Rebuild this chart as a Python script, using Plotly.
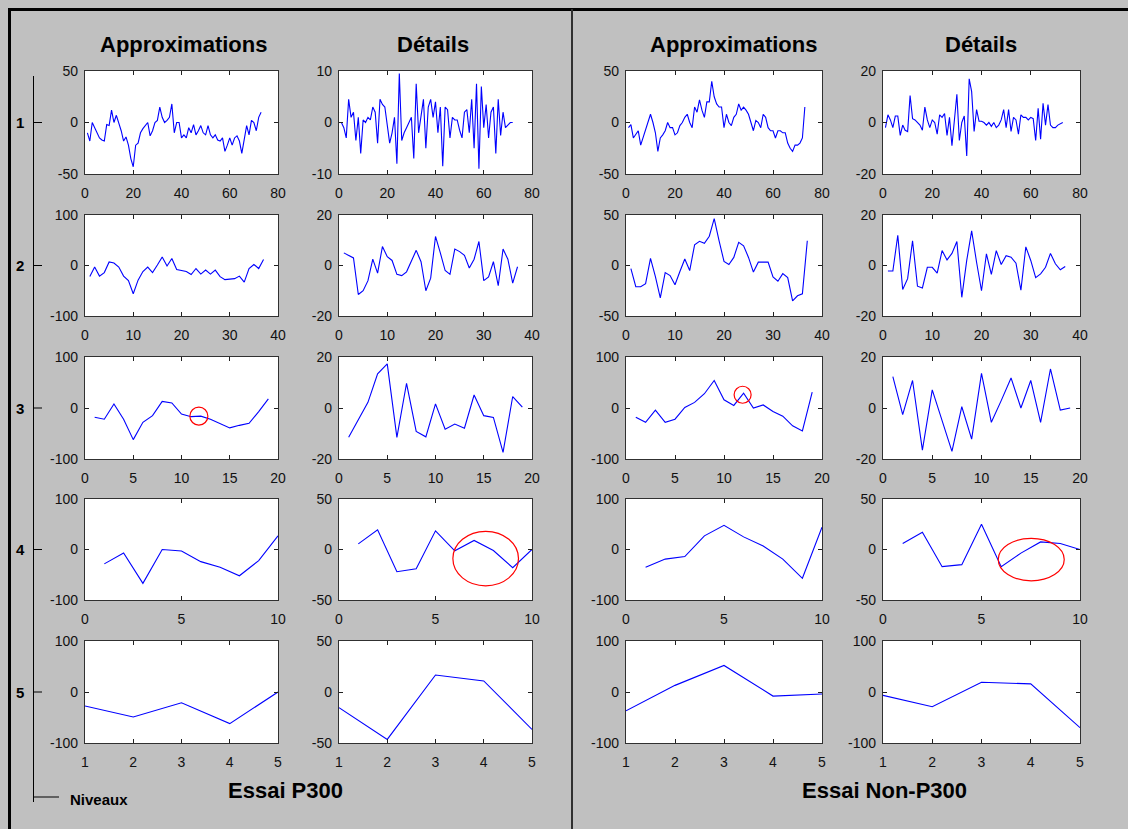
import plotly.graph_objects as go

W, H = 1128, 829

# ---------------- data ----------------
a1_p300 = [-10, -18, 0, -5, -10, -15, -17, -18, -2, -3, 12, 0, 7, 0, -8, -18, -14, -22, -35, -43,
           -22, -20, -10, -6, -3, 0, -13, -8, 0, 2, 15, 5, 0, 2, 5, 18, -10, 0, 0, -15,
           -12, -15, -5, -10, -2, -12, -8, -3, -10, -12, -3, -12, -15, -12, -17, -18, -15, -28, -22, -15,
           -22, -15, -13, -18, -30, -15, -3, -12, 2, 0, -8, 5, 10]
d1_p300 = [0, -1, -3, 4.5, 1, 2, -3.5, 1, -6, 0.5, 0, 1, 0.5, 3, 2, -4, 4.5, 3.5, 3, -1,
           -4, -2, 1, -8, 9.5, -3.5, -2, -1, 0, 1, -7, 7.5, -2, 1, 4.5, -5, 3, 4.5, 1, 4,
           -2, 3, -8.5, 3, 2.5, -3, 1, 0.5, 0.5, -1.5, -3, 2, 2.5, -2, 4.5, -5, 7.5, -9, 7, -1,
           3.5, -3, 2, 3, -6, 4.5, -2.5, 2, -1, -0.5, 0, 0]
a1_np = [-5, -2, -15, -12, -8, -22, -15, -8, 0, 8, 0, -10, -28, -15, -12, -8, 0, -5, -5, -12,
         -10, -3, 0, 5, 8, 0, -5, 15, 10, 22, 12, 5, 20, 20, 40, 25, 18, 15, 15, -5,
         8, 0, -3, 5, 8, 18, 12, 15, 12, 8, 0, -8, 2, 0, -5, 8, 5, -5, -8, -8,
         -15, -8, -8, -10, -10, -20, -25, -28, -22, -22, -20, -15, 15]
d1_np = [-2, 3, 1, -2, 2.5, 2.5, -5, -1, -3, -3.5, 10.5, 1.5, 1, 0, -1, -3, 6, 1, -2, 1,
         0, -4.5, 3, 2, 3.5, -5, 2, -9, 1, 11, -7, 0, 2.5, -13, 17, 12, -3.5, 5, 0.5, 0.5,
         0, -1, 0, -1.5, 0, -2, -1, 1, 5, -2, 5, -3.5, 2, 1, -4.5, 3, 2, 2, 1, 2,
         1.5, -7, 5.5, -6.5, 7.5, -1, 7, -1, -2, -2, -1, -0.5, 0]

a2_p300 = [-22, -3, -21, -14, 7, 5, -3, -21, -30, -56, -29, -12, -3, -14, 1, 17, -1, 14, -8, -10,
           -12, -18, -6, -17, -9, -17, -9, -22, -28, -27, -26, -21, -33, -6, 2, -6, 12]
d2_p300 = [5, 4, 3, -11.5, -10, -6, 2.5, -3, 7.5, 3.5, 2, -3.5, -4, -2.5, 2, 6, 1.5, -10, -5, 11.5,
           5, -2, -3.5, 6.5, 5.5, 4, -1, 2.5, 9.5, -6, -4.5, 1.5, -8, 6.5, 2.5, -7, -0.5]
a2_np = [-3, -21, -21, -18, 7, -11, -32, -7, -10, -19, -6, 6.5, -5, 20.5, 24, 22, 29, 46.5, 24.5, 4,
         1, 8, 23, 19.5, 8, -6.5, 3.3, 3.3, 3.3, -11.4, -15.6, -8, -12, -35, -30, -28, 24.5]
d2_np = [-2.2, -2.2, 12, -9.5, -5.2, 9.8, -8.2, -8.9, -0.7, -0.7, -3, 5.9, 2.2, 4.8, 9.5, -12.6, 2, 13.7, 1.3, -10,
         4.6, -3.5, 5.9, 0.4, 3.9, 3.3, 0.9, -9.8, 7.4, 2, -4.8, -3.3, -0.7, 4.8, 0.7, -1.7, -0.4]

a3_p300 = [-18, -22, 8, -22, -62, -28, -15, 13, 10, -12, -17, -16, -22, -31, -39, -34, -30, -7, 18]
d3_p300 = [-11.5, -4.7, 2.2, 13.4, 17.3, -11.5, 9.7, -9.2, -11.3, 1.6, -8.3, -6.3, -7.9, 5.1, -3, -3.7, -17.4, 4.5, 0.3]
a3_np = [-18, -28, -4, -28, -22, 1, 11, 28, 54, 16, 5, 29, 0, 6, -7, -16, -35, -45, 31]
d3_np = [12.3, -2.6, 10.8, -16.5, 7.1, -5, -17, 0.5, -12.2, 13.6, -5.6, 2.9, 11.8, 0, 10.8, -5.6, 15.3, -0.8, 0]

a4_p300 = [-28.5, -7, -67, 0, -3, -24, -35, -52, -22, 27]
d4_p300 = [5.6, 19.5, -22, -19, 18.5, -1.3, 9, -1, -18, 0]
a4_np = [-35, -19, -14, 27, 48, 25, 7, -19, -57, 44]
d4_np = [6, 17, -17, -15, 25, -17, -3.6, 7.5, 6, 0]

a5_p300 = [-27.5, -49, -21, -62, 0]
d5_p300 = [-15.4, -46.5, 16.7, 10.8, -36.7]
a5_np = [-37, 13, 52, -8, -4]
d5_np = [-6.5, -29, 19, 16, -70]

series = [
    [a1_p300, d1_p300, a1_np, d1_np],
    [a2_p300, d2_p300, a2_np, d2_np],
    [a3_p300, d3_p300, a3_np, d3_np],
    [a4_p300, d4_p300, a4_np, d4_np],
    [a5_p300, d5_p300, a5_np, d5_np],
]
x_ticks = [[0, 20, 40, 60, 80], [0, 10, 20, 30, 40], [0, 5, 10, 15, 20], [0, 5, 10], [1, 2, 3, 4, 5]]
y_limits = [
    [50, 10, 50, 20],
    [100, 20, 50, 20],
    [100, 20, 100, 20],
    [100, 50, 100, 50],
    [100, 50, 100, 100],
]
col_titles = ["Approximations", "Détails", "Approximations", "Détails"]
level_labels = ["1", "2", "3", "4", "5"]
group_titles = ["Essai P300", "Essai Non-P300"]

# highlighted zones (row, col, centre x, centre y, radius) -- small circles in pixels
small_circles = [(3, 1, 11.8, -16, 9), (3, 3, 11.9, 26, 8.5)]
# ellipses in data units (row, col, x0, x1, y0, y1)
ellipses = [(4, 2, 5.9, 9.3, -36, 18), (4, 4, 5.85, 9.2, -31, 11)]

# ---------------- layout geometry (pixels) ----------------
col_px = [(85, 278), (339, 532), (626, 822), (883, 1080)]
row_px = [(71, 174), (215, 316), (357, 459), (499, 600), (641, 743)]


def px(x):
    return x / W


def py(y):
    return 1 - y / H


tick_font = dict(family="Liberation Sans, Arial, sans-serif", size=14, color="#111111")
bold_font = "Liberation Sans, Arial, sans-serif"

fig = go.Figure()
layout = dict(
    width=W, height=H,
    margin=dict(l=0, r=0, t=0, b=0, pad=0, autoexpand=False),
    paper_bgcolor="#c0c0c0",
    plot_bgcolor="#ffffff",
    showlegend=False,
)

shapes = []
annotations = []

k = 0
for r in range(5):
    for c in range(4):
        k += 1
        ys = series[r][c]
        xs = list(range(1, len(ys) + 1))
        xa = "x" if k == 1 else f"x{k}"
        ya = "y" if k == 1 else f"y{k}"
        fig.add_trace(go.Scatter(x=xs, y=ys, mode="lines", xaxis=xa, yaxis=ya,
                                 line=dict(color="#0000ff", width=1.1), hoverinfo="skip"))
        lim = y_limits[r][c]
        xt = x_ticks[r]
        common = dict(showgrid=False, zeroline=False, showline=True, linecolor="#303030",
                      linewidth=1.3, mirror="ticks", ticks="inside", ticklen=4,
                      tickcolor="#202020", tickwidth=1, tickfont=tick_font, automargin=False)
        layout["xaxis" if k == 1 else f"xaxis{k}"] = dict(
            domain=[px(col_px[c][0]), px(col_px[c][1])],
            anchor=ya, range=[xt[0], xt[-1]], tickvals=xt,
            ticktext=[str(v) for v in xt], ticklabelstandoff=6, **common)
        layout["yaxis" if k == 1 else f"yaxis{k}"] = dict(
            domain=[py(row_px[r][1]), py(row_px[r][0])],
            anchor=xa, range=[-lim, lim], tickvals=[-lim, 0, lim],
            ticktext=[str(-lim), "0", str(lim)], ticklabelstandoff=3, **common)

# circles
for (r, c, cx, cy, rad) in small_circles:
    kk = (r - 1) * 4 + c
    xa = "x" if kk == 1 else f"x{kk}"
    ya = "y" if kk == 1 else f"y{kk}"
    shapes.append(dict(type="circle", xref=xa, yref=ya, xsizemode="pixel", ysizemode="pixel",
                       xanchor=cx, yanchor=cy, x0=-rad, x1=rad, y0=-rad, y1=rad,
                       line=dict(color="#ff0000", width=1.2)))
for (r, c, x0, x1, y0, y1) in ellipses:
    kk = (r - 1) * 4 + c
    shapes.append(dict(type="circle", xref=f"x{kk}", yref=f"y{kk}", x0=x0, x1=x1, y0=y0, y1=y1,
                       line=dict(color="#ff0000", width=1.2)))

# frame: top and left black borders, middle divider
shapes.append(dict(type="line", xref="paper", yref="paper", x0=px(8), x1=1, y0=py(9.5), y1=py(9.5),
                   line=dict(color="#000000", width=3)))
shapes.append(dict(type="line", xref="paper", yref="paper", x0=px(9.5), x1=px(9.5), y0=0, y1=py(8),
                   line=dict(color="#000000", width=3)))
shapes.append(dict(type="line", xref="paper", yref="paper", x0=px(572), x1=px(572), y0=0, y1=py(9),
                   line=dict(color="#303030", width=2)))

# levels axis on the left
shapes.append(dict(type="line", xref="paper", yref="paper", x0=px(33.5), x1=px(33.5), y0=py(76), y1=py(802),
                   line=dict(color="#000000", width=1)))
shapes.append(dict(type="line", xref="paper", yref="paper", x0=px(33.5), x1=px(59), y0=py(797), y1=py(797),
                   line=dict(color="#000000", width=1)))
for r in range(5):
    yc = (row_px[r][0] + row_px[r][1]) / 2
    shapes.append(dict(type="line", xref="paper", yref="paper", x0=px(33.5), x1=px(42), y0=py(yc), y1=py(yc),
                       line=dict(color="#000000", width=1)))
    annotations.append(dict(text=f"<b>{level_labels[r]}</b>", xref="paper", yref="paper",
                            x=px(20), y=py(yc), showarrow=False, xanchor="center", yanchor="middle",
                            font=dict(family=bold_font, size=15, color="#000000")))

annotations.append(dict(text="<b>Niveaux</b>", xref="paper", yref="paper", x=px(68), y=py(799),
                        showarrow=False, xanchor="left", yanchor="middle",
                        font=dict(family=bold_font, size=15, color="#000000")))

title_x = [183, 433, 733, 981]
for c in range(4):
    annotations.append(dict(text=f"<b>{col_titles[c]}</b>", xref="paper", yref="paper",
                            x=px(title_x[c]), y=py(44), showarrow=False, xanchor="center", yanchor="middle",
                            font=dict(family=bold_font, size=22, color="#000000")))

group_x = [285, 884]
for g in range(2):
    annotations.append(dict(text=f"<b>{group_titles[g]}</b>", xref="paper", yref="paper",
                            x=px(group_x[g]), y=py(790), showarrow=False, xanchor="center", yanchor="middle",
                            font=dict(family=bold_font, size=22, color="#000000")))

layout["shapes"] = shapes
layout["annotations"] = annotations
fig.update_layout(**layout)

fig.write_html("out.html", config={"displayModeBar": False},
               post_script="document.body.style.margin='0';document.body.style.overflow='hidden';")
